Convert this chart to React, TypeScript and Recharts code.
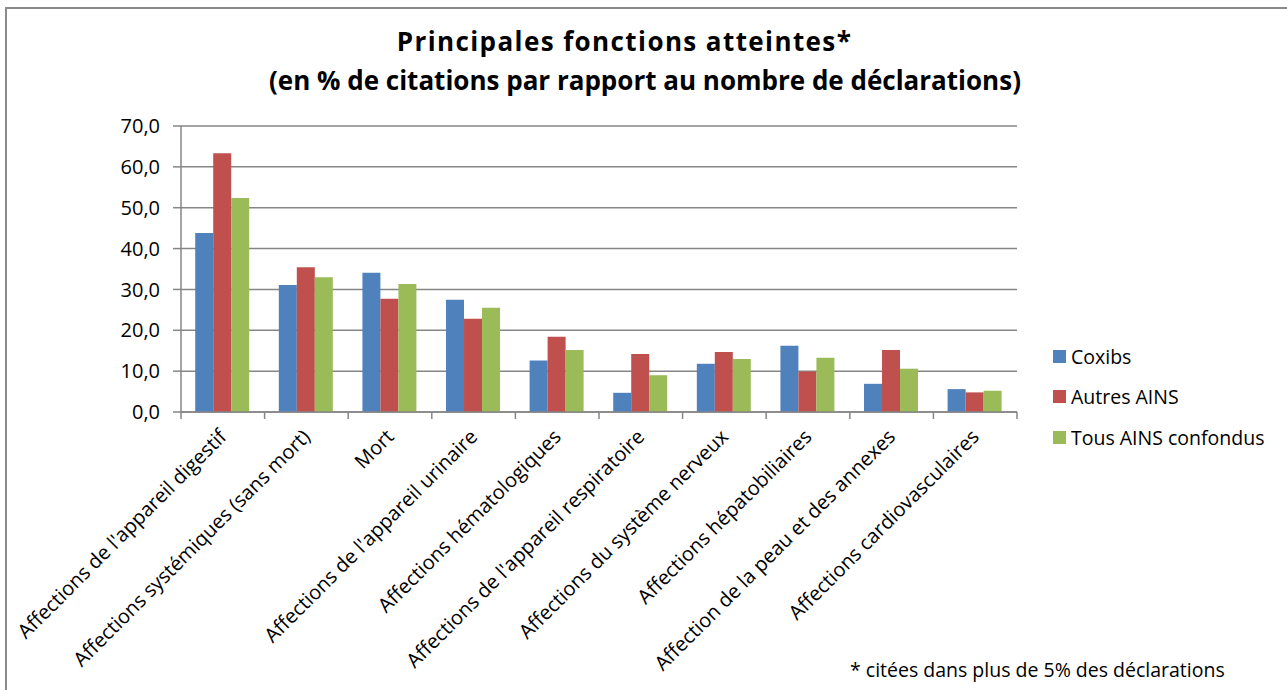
import React from 'react';
import { BarChart, Bar, XAxis, YAxis, CartesianGrid, Legend } from 'recharts';

const categories = [
  "Affections de l'appareil digestif",
  'Affections systémiques (sans mort)',
  'Mort',
  "Affections de l'appareil urinaire",
  'Affections hématologiques',
  "Affections de l'appareil respiratoire",
  'Affections du système nerveux',
  'Affections hépatobiliaires',
  'Affection de la peau et des annexes',
  'Affections cardiovasculaires',
];

const coxibs = [43.8, 31.1, 34.1, 27.5, 12.6, 4.7, 11.8, 16.2, 6.9, 5.6];
const autresAins = [63.3, 35.4, 27.7, 22.8, 18.4, 14.2, 14.7, 9.9, 15.2, 4.8];
const tousAins = [52.4, 33.0, 31.3, 25.5, 15.2, 9.0, 13.0, 13.3, 10.6, 5.2];

const yTicks = [0, 10, 20, 30, 40, 50, 60, 70];
const seriesNames = ['Coxibs', 'Autres AINS', 'Tous AINS confondus'];
const seriesKeys = ['coxibs', 'autres', 'tous'];
const seriesColors = ['#4F81BD', '#C0504D', '#9BBB59'];

const titleLine1 = 'Principales fonctions atteintes*';
const titleLine2 = '(en % de citations par rapport au nombre de déclarations)';
const footnote = '* citées dans plus de 5% des déclarations';

const data = categories.map((name, i) => ({
  name,
  coxibs: coxibs[i],
  autres: autresAins[i],
  tous: tousAins[i],
}));

const W = 1287;
const H = 690;
const PLOT_LEFT = 181;
const PLOT_RIGHT = 1017;
const PLOT_TOP = 126;
const PLOT_BOTTOM = 412;
const X_AXIS_H = 200;
const AXIS_COLOR = '#868686';
const FONT = '"Open Sans", Lato, sans-serif';

const XTick = (props: any) => {
  const { x, y, payload, index } = props;
  const bw = (PLOT_RIGHT - PLOT_LEFT) / categories.length;
  const tx = x + 5;
  const ty = y + 26;
  return (
    <g>
      <line x1={x - bw / 2} x2={x - bw / 2} y1={y} y2={y + 7} stroke={AXIS_COLOR} strokeWidth={1.5} />
      {index === categories.length - 1 && (
        <line x1={x + bw / 2} x2={x + bw / 2} y1={y} y2={y + 7} stroke={AXIS_COLOR} strokeWidth={1.5} />
      )}
      <text
        x={tx}
        y={ty}
        transform={`rotate(-45 ${tx} ${ty})`}
        textAnchor="end"
        fontSize={20}
        fontFamily={FONT}
        fill="#000"
      >
        {payload.value}
      </text>
    </g>
  );
};

const LegendContent = () => (
  <div style={{ fontFamily: FONT, fontSize: 19.5, color: '#000' }}>
    {seriesNames.map((n, i) => (
      <div key={n} style={{ display: 'flex', alignItems: 'center', height: 40.5 }}>
        <span
          style={{
            display: 'inline-block',
            width: 13,
            height: 13,
            background: seriesColors[i],
            marginRight: 5,
          }}
        />
        <span>{n}</span>
      </div>
    ))}
  </div>
);

export default function App() {
  return (
    <div style={{ position: 'absolute', left: 0, top: 0, width: W, height: H, overflow: 'hidden', background: '#fff' }}>
      <div
        style={{
          position: 'absolute',
          left: 5,
          top: 7,
          width: W + 20,
          height: H + 20,
          border: '2px solid #8a8a8a',
          boxSizing: 'border-box',
        }}
      />
      <div
        style={{
          position: 'absolute',
          left: 0,
          width: 1249,
          top: 26,
          textAlign: 'center',
          fontFamily: FONT,
          fontWeight: 700,
          fontSize: 26,
          letterSpacing: 1.4,
          color: '#000',
          lineHeight: '30px',
          whiteSpace: 'nowrap',
        }}
      >
        {titleLine1}
      </div>
      <div
        style={{
          position: 'absolute',
          left: 0,
          width: 1290,
          top: 65,
          textAlign: 'center',
          fontFamily: FONT,
          fontWeight: 700,
          fontSize: 26,
          color: '#000',
          lineHeight: '30px',
          whiteSpace: 'nowrap',
        }}
      >
        {titleLine2}
      </div>
      <div style={{ position: 'absolute', left: 0, top: 0 }}>
        <BarChart
          width={W}
          height={H}
          data={data}
          margin={{ top: PLOT_TOP, right: W - PLOT_RIGHT, bottom: H - PLOT_BOTTOM - X_AXIS_H, left: 0 }}
          barGap={0}
          barCategoryGap="17%"
        >
          <CartesianGrid vertical={false} stroke={AXIS_COLOR} strokeWidth={1.5} strokeDasharray="" />
          <XAxis
            dataKey="name"
            interval={0}
            height={X_AXIS_H}
            tickSize={0}
            tickMargin={0}
            tickLine={false}
            axisLine={{ stroke: AXIS_COLOR, strokeWidth: 1.5 }}
            tick={<XTick />}
          />
          <YAxis
            width={PLOT_LEFT}
            domain={[0, 70]}
            ticks={yTicks}
            interval={0}
            tickSize={8}
            tickMargin={13}
            tickLine={{ stroke: AXIS_COLOR, strokeWidth: 1.5 }}
            axisLine={{ stroke: AXIS_COLOR, strokeWidth: 1.5 }}
            tickFormatter={(v: number) => v.toFixed(1).replace('.', ',')}
            tick={{ fill: '#000', fontSize: 20, fontFamily: FONT }}
          />
          <Legend
            layout="vertical"
            align="center"
            verticalAlign="middle"
            content={<LegendContent />}
            wrapperStyle={{ position: 'absolute', left: 1053, top: 336, width: 232, height: 125 }}
          />
          {seriesKeys.map((k, i) => (
            <Bar key={k} dataKey={k} name={seriesNames[i]} fill={seriesColors[i]} isAnimationActive={false} />
          ))}
        </BarChart>
      </div>
      <div
        style={{
          position: 'absolute',
          left: 850,
          top: 656,
          fontFamily: FONT,
          fontSize: 19.5,
          color: '#000',
          whiteSpace: 'nowrap',
        }}
      >
        {footnote}
      </div>
    </div>
  );
}
